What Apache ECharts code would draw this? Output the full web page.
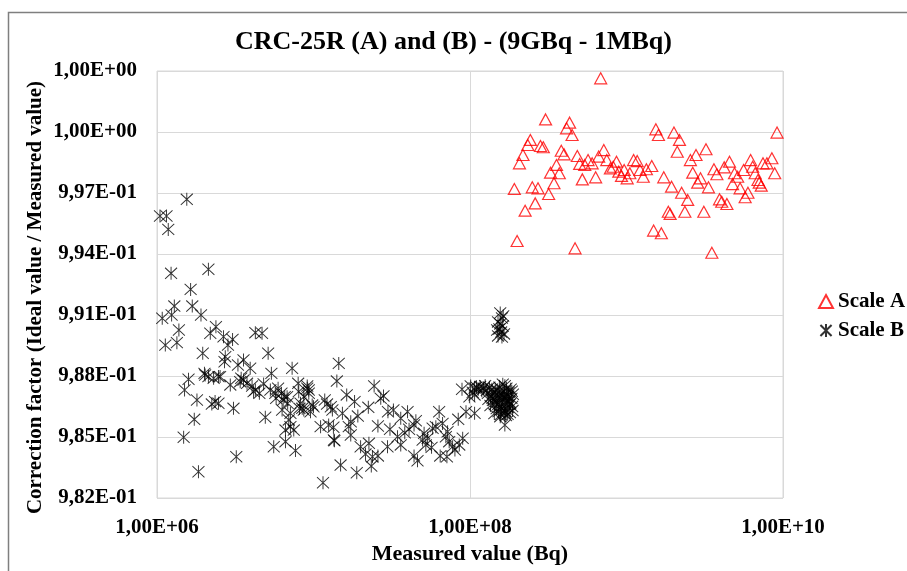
<!DOCTYPE html>
<html>
<head>
<meta charset="utf-8">
<script src="https://cdn.jsdelivr.net/npm/echarts@6/dist/echarts.min.js"></script>
<style>
  html, body { margin: 0; padding: 0; background: #fff; }
  #chart { width: 907px; height: 571px; }
</style>
</head>
<body>
<div id="chart"></div>
<script>
// Scale A (red triangles): measured value (Bq) / correction factor
var scaleAX = [
  6.84e8, 3.04e8, 4.33e8, 4.14e8, 4.49e8, 2.43e8, 2.34e8, 2.82e8, 2.94e8, 2.18e8,
  2.07e8, 3.83e8, 3.99e8, 3.57e8, 3.27e8, 3.72e8, 3.44e8, 3.18e8, 1.92e8, 2.50e8,
  2.72e8, 2.61e8, 2.25e8, 2.00e8, 4.69e8, 4.85e8, 5.02e8, 5.22e8, 6.35e8, 5.68e8,
  5.41e8, 6.03e8, 6.64e8, 7.16e8, 7.48e8, 7.89e8, 8.63e8, 8.93e8, 8.22e8, 9.66e8,
  9.29e8, 1.01e9, 1.05e9, 1.11e9, 1.17e9, 1.22e9, 1.28e9, 1.34e9, 1.45e9, 1.54e9,
  1.60e9, 2.01e9, 2.18e9, 2.11e9, 1.73e9, 1.94e9, 2.25e9, 2.46e9, 1.85e9, 1.90e9,
  2.36e9, 1.49e9, 1.67e9, 2.56e9, 2.78e9, 3.22e9, 2.65e9, 2.97e9, 2.85e9, 3.34e9,
  3.12e9, 3.51e9, 3.62e9, 3.78e9, 4.21e9, 4.55e9, 4.90e9, 5.13e9, 4.76e9, 3.93e9,
  4.06e9, 4.38e9, 5.32e9, 5.73e9, 5.97e9, 5.60e9, 6.21e9, 6.64e9, 6.92e9, 7.26e9,
  7.45e9, 7.89e9, 8.49e9, 8.85e9, 9.16e9, 6.40e9, 7.05e9
];
var scaleAY = [
  1.00264, 1.00062, 1.00046, 1.00018, 0.99985, 0.99961, 0.99936, 0.99931, 0.99925, 0.99887,
  0.99846, 0.99908, 0.99890, 0.99838, 0.99800, 0.99797, 0.99748, 0.99695, 0.99720, 0.99728,
  0.99723, 0.99649, 0.99613, 0.99464, 0.99428, 0.99882, 0.99843, 0.99767, 0.99777, 0.99862,
  0.99838, 0.99846, 0.99879, 0.99911, 0.99862, 0.99821, 0.99854, 0.99805, 0.99829, 0.99813,
  0.99784, 0.99772, 0.99797, 0.99862, 0.99857, 0.99813, 0.99780, 0.99817, 0.99833, 1.00013,
  0.99985, 0.99997, 0.99961, 0.99903, 0.99777, 0.99731, 0.99701, 0.99666, 0.99608, 0.99597,
  0.99608, 0.99515, 0.99502, 0.99862, 0.99887, 0.99915, 0.99800, 0.99772, 0.99751, 0.99728,
  0.99608, 0.99406, 0.99817, 0.99792, 0.99826, 0.99854, 0.99797, 0.99780, 0.99744, 0.99669,
  0.99657, 0.99646, 0.99723, 0.99679, 0.99701, 0.99813, 0.99862, 0.99797, 0.99764, 0.99736,
  0.99846, 0.99846, 0.99871, 0.99797, 0.99997, 0.99829, 0.99751
];

// Scale B (black asterisks)
var scaleBX = [
  1.55e6, 1.045e6, 1.15e6, 1.18e6, 1.23e6, 2.13e6, 1.64e6, 1.29e6, 1.24e6, 1.08e6,
  1.68e6, 1.91e6, 1.38e6, 1.34e6, 1.13e6, 2.38e6, 2.19e6, 2.66e6, 3.04e6, 2.84e6,
  1.96e6, 2.73e6, 2.70e6, 4.25e6, 4.69e6, 5.13e6, 3.57e6, 3.29e6, 3.94e6, 2.01e6,
  2.13e6, 2.47e6, 1.59e6, 1.50e6, 1.80e6, 2.94e6, 3.45e6, 3.57e6, 3.76e6, 4.05e6,
  4.25e6, 4.51e6, 4.80e6, 5.30e6, 5.38e6, 5.94e6, 6.24e6, 6.78e6, 7.30e6, 7.98e6,
  9.12e6, 2.35e6, 2.24e6, 3.08e6, 4.92e6, 6.30e6, 1.73e6, 1.48e6, 1.84e6, 3.21e6,
  5.57e6, 6.62e6, 7.67e6, 7.12e6, 6.95e6, 8.26e6, 8.67e6, 9.57e6, 5.70e6, 5.77e6,
  6.55e6, 8.13e6, 9.33e6, 1.15e7, 1.49e7, 1.89e7, 2.34e7, 1.35e7, 1.11e7, 6.62e6,
  1.41e7, 1.45e7, 2.44e7, 2.80e7, 2.69e7, 1.63e7, 1.83e7, 1.18e7, 1.22e7, 9.12e6,
  9.33e6, 8.67e6, 1.00e7, 8.47e6, 1.32e7, 1.53e7, 1.92e7, 2.24e7, 1.73e7, 1.68e7,
  1.25e7, 1.34e7, 1.36e7, 1.73e7, 2.58e7, 2.99e7, 3.24e7, 3.61e7, 3.99e7, 4.51e7,
  3.08e7, 3.44e7, 3.61e7, 3.83e7, 4.08e7, 4.39e7, 2.00e7, 2.26e7, 2.15e7, 2.38e7,
  2.58e7, 2.97e7, 4.39e7, 4.62e7, 4.98e7, 5.22e7, 5.68e7, 6.35e7, 6.68e7, 5.77e7,
  6.05e7, 7.19e7, 7.01e7, 6.45e7, 7.12e7, 7.74e7, 8.01e7, 8.54e7, 8.98e7, 8.41e7,
  9.43e7, 1.07e8, 8.89e7, 1.01e8, 9.91e7, 1.07e8, 5.09e7, 5.36e7, 7.36e7,
  2.03e6, 2.30e6, 2.53e6, 2.47e6, 3.40e6, 4.14e6, 6.40e6, 6.84e6, 7.12e6, 7.48e6,
  8.05e6, 9.81e6, 1.29e7,
  1.56e8, 1.60e8, 1.51e8, 1.62e8, 1.54e8, 1.58e8, 1.65e8, 1.51e8, 1.60e8, 1.56e8,
  1.49e8, 1.63e8,
  1.10e8, 1.13e8, 1.16e8, 1.19e8, 1.22e8, 1.25e8, 1.28e8, 1.04e8, 1.07e8, 1.30e8,
  1.33e8, 1.36e8, 1.38e8, 1.40e8, 1.42e8, 1.44e8, 1.46e8, 1.48e8, 1.50e8, 1.52e8,
  1.54e8, 1.55e8, 1.57e8, 1.58e8, 1.60e8, 1.62e8, 1.63e8, 1.65e8, 1.66e8, 1.68e8,
  1.70e8, 1.71e8, 1.73e8, 1.75e8, 1.77e8, 1.78e8, 1.80e8, 1.82e8, 1.84e8, 1.86e8,
  1.88e8, 1.87e8, 1.35e8, 1.43e8, 1.49e8, 1.56e8, 1.61e8, 1.67e8, 1.74e8, 1.79e8,
  1.85e8, 1.39e8, 1.47e8, 1.53e8, 1.59e8, 1.64e8, 1.69e8, 1.76e8, 1.81e8, 1.31e8,
  1.45e8, 1.51e8, 1.67e8, 1.72e8, 1.67e8
];
var scaleBY = [
  0.99669, 0.99587, 0.99587, 0.99521, 0.99305, 0.99325, 0.99226, 0.99144, 0.99100, 0.99084,
  0.99144, 0.99100, 0.99026, 0.98964, 0.98952, 0.99042, 0.99010, 0.98993, 0.98980, 0.98952,
  0.98912, 0.98895, 0.98870, 0.99013, 0.99010, 0.98912, 0.98879, 0.98854, 0.98838, 0.98813,
  0.98797, 0.98797, 0.98784, 0.98731, 0.98682, 0.98756, 0.98789, 0.98780, 0.98764, 0.98751,
  0.98731, 0.98715, 0.98761, 0.98731, 0.98813, 0.98740, 0.98715, 0.98698, 0.98838, 0.98764,
  0.98740, 0.98674, 0.98662, 0.98641, 0.98597, 0.98633, 0.98587, 0.98499, 0.98329, 0.98403,
  0.98452, 0.98477, 0.98433, 0.98551, 0.98584, 0.98666, 0.98633, 0.98624, 0.98715, 0.98690,
  0.98698, 0.98641, 0.98715, 0.98275, 0.98362, 0.98324, 0.98357, 0.98485, 0.98551, 0.98534,
  0.98775, 0.98862, 0.98751, 0.98702, 0.98690, 0.98707, 0.98674, 0.98682, 0.98662, 0.98751,
  0.98731, 0.98698, 0.98649, 0.98641, 0.98633, 0.98617, 0.98603, 0.98646, 0.98575, 0.98551,
  0.98559, 0.98548, 0.98482, 0.98510, 0.98554, 0.98624, 0.98633, 0.98592, 0.98624, 0.98580,
  0.98538, 0.98501, 0.98461, 0.98521, 0.98538, 0.98559, 0.98452, 0.98469, 0.98416, 0.98403,
  0.98407, 0.98452, 0.98407, 0.98383, 0.98485, 0.98461, 0.98449, 0.98624, 0.98567, 0.98543,
  0.98551, 0.98526, 0.98501, 0.98407, 0.98403, 0.98452, 0.98436, 0.98461, 0.98494, 0.98587,
  0.98624, 0.98617, 0.98735, 0.98751, 0.98698, 0.98707, 0.98518, 0.98494, 0.98477,
  0.98805, 0.98789, 0.98797, 0.98666, 0.98772, 0.98723, 0.98682, 0.98666, 0.98617, 0.98534,
  0.98723, 0.98657, 0.98649,
  0.99110, 0.99085, 0.99066, 0.99046, 0.99031, 0.99016, 0.99007, 0.98997, 0.98992, 0.99056,
  0.99026, 0.99095,
  0.98745, 0.98735, 0.98748, 0.98728, 0.98740, 0.98752, 0.98730, 0.98720, 0.98741, 0.98715,
  0.98745, 0.98700, 0.98735, 0.98680, 0.98720, 0.98660, 0.98705, 0.98640, 0.98690, 0.98625,
  0.98745, 0.98670, 0.98610, 0.98715, 0.98650, 0.98760, 0.98695, 0.98630, 0.98725, 0.98668,
  0.98605, 0.98740, 0.98700, 0.98645, 0.98720, 0.98675, 0.98620, 0.98735, 0.98690, 0.98650,
  0.98710, 0.98630, 0.98655, 0.98615, 0.98730, 0.98600, 0.98685, 0.98752, 0.98612, 0.98660,
  0.98725, 0.98690, 0.98675, 0.98705, 0.98638, 0.98710, 0.98625, 0.98700, 0.98665, 0.98685,
  0.98735, 0.98660, 0.98615, 0.98680, 0.98559
];

var yTicks = { min: 0.982, max: 1.003, step: 0.003 };
var xTicks = { min: 1e6, max: 1e10 };

function zip(xs, ys) {
    var out = [];
    var n = Math.min(xs.length, ys.length);
    for (var i = 0; i < n; i++) out.push([xs[i], ys[i]]);
    return out;
}

// Excel style: 9,82E-01
function sciLabel(v) {
    var p = Number(v).toExponential(2).split('e');
    var e = parseInt(p[1], 10);
    var a = Math.abs(e);
    return p[0].replace('.', ',') + 'E' + (e < 0 ? '-' : '+') + (a < 10 ? '0' : '') + a;
}

var serif = '"Liberation Serif", "Times New Roman", serif';
var asterisk = 'path://M0,1L12,13M12,1L0,13M6,0L6,14';

var chart = echarts.init(document.getElementById('chart'));
chart.setOption({
    backgroundColor: '#fff',
    animation: false,
    title: {
        text: 'CRC-25R (A) and (B) - (9GBq - 1MBq)',
        left: 'center',
        top: 24,
        textStyle: { fontFamily: serif, fontWeight: 'bold', fontSize: 26, color: '#000' }
    },
    graphic: [{
        type: 'rect',
        shape: { x: 8.5, y: 12.5, width: 1000, height: 1000 },
        style: { fill: 'none', stroke: '#7f7f7f', lineWidth: 1.5 },
        silent: true
    }],
    legend: {
        orient: 'vertical',
        left: 818,
        top: 291,
        padding: 0,
        itemWidth: 14,
        itemHeight: 13,
        itemGap: 8,
        textStyle: { fontFamily: serif, fontWeight: 'bold', fontSize: 21, color: '#000' },
        data: ['Scale A', 'Scale B']
    },
    grid: {
        left: 157, top: 71, right: 124, bottom: 73,
        show: true, borderColor: '#d9d9d9', borderWidth: 1,
        containLabel: false
    },
    xAxis: {
        type: 'log',
        logBase: 10,
        min: xTicks.min,
        max: xTicks.max,
        interval: 2,
        name: 'Measured value (Bq)',
        nameLocation: 'middle',
        nameGap: 45,
        nameTextStyle: { fontFamily: serif, fontWeight: 'bold', fontSize: 22, color: '#000' },
        axisLine: { show: false },
        axisTick: { show: false },
        minorTick: { show: false },
        splitLine: { show: true, lineStyle: { color: '#d9d9d9', width: 1 } },
        axisLabel: {
            margin: 19,
            fontFamily: serif, fontWeight: 'bold', fontSize: 21, color: '#000',
            formatter: sciLabel
        }
    },
    yAxis: {
        type: 'value',
        min: yTicks.min,
        max: yTicks.max,
        interval: yTicks.step,
        name: 'Correction factor (Ideal value / Measured value)',
        nameLocation: 'middle',
        nameGap: 111,
        nameMoveOverlap: false,
        nameTextStyle: { fontFamily: serif, fontWeight: 'bold', fontSize: 21, color: '#000', padding: [0, 26, 0, 0] },
        axisLine: { show: false },
        axisTick: { show: false },
        splitLine: { show: true, lineStyle: { color: '#d9d9d9', width: 1 } },
        axisLabel: {
            margin: 20,
            fontFamily: serif, fontWeight: 'bold', fontSize: 21, color: '#000',
            formatter: sciLabel
        }
    },
    series: [
        {
            name: 'Scale A',
            type: 'scatter',
            symbol: 'triangle',
            symbolSize: [12, 11],
            itemStyle: { color: 'rgba(255,255,255,0)', borderColor: '#ff0000', borderWidth: 1.2 },
            data: zip(scaleAX, scaleAY)
        },
        {
            name: 'Scale B',
            type: 'scatter',
            symbol: asterisk,
            symbolSize: [12, 13],
            itemStyle: { color: 'rgba(255,255,255,0)', borderColor: '#000', borderWidth: 1 },
            data: zip(scaleBX, scaleBY)
        }
    ]
});
</script>
</body>
</html>
